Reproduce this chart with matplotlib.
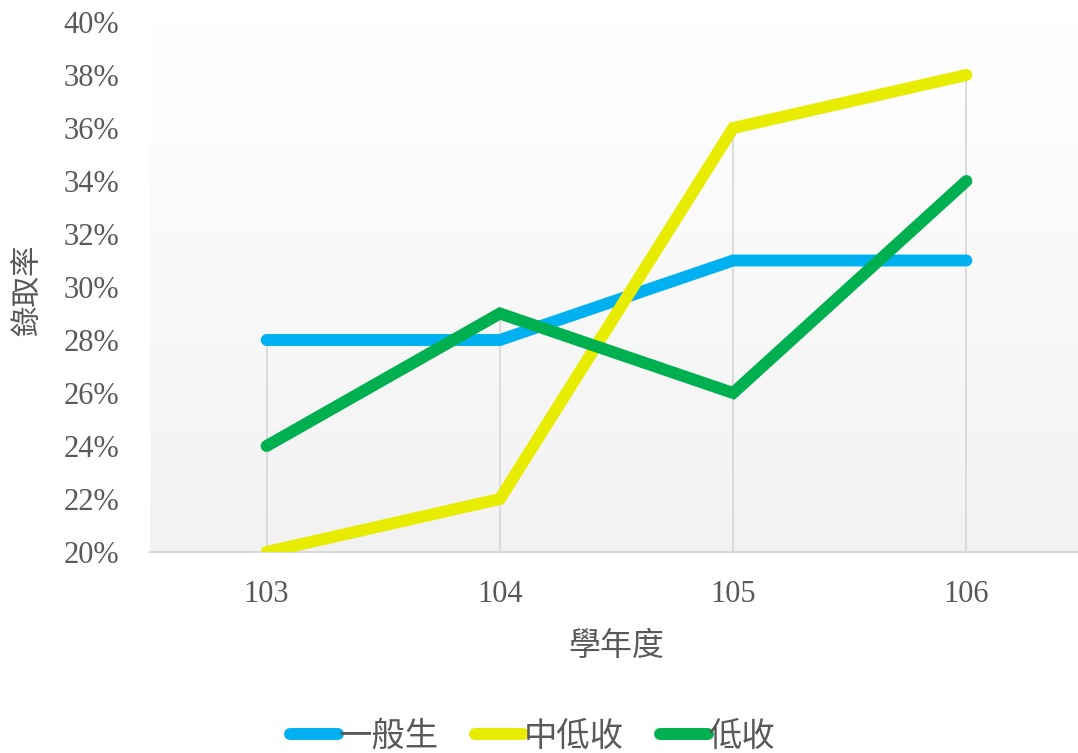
import matplotlib
matplotlib.use("Agg")
import matplotlib.pyplot as plt
import numpy as np
from matplotlib.colors import LinearSegmentedColormap

years = ["103", "104", "105", "106"]
series_names = ["一般生", "中低收", "低收"]
general = [28, 28, 31, 31]
mid_low = [20, 22, 36, 38]
low = [24, 29, 26, 34]
colors = ["#00B0F0", "#E8EC00", "#00B050"]
yticks = list(range(20, 41, 2))

cjk = ["Noto Sans CJK TC", "DejaVu Sans"]
serif = ["Liberation Serif", "DejaVu Serif"]
txt = "#595959"

fig = plt.figure(figsize=(10.78, 7.53), dpi=100)
ax = fig.add_axes([150/1078, 201/753, (1083 - 150)/1078, 530/753])

# gradient background
cmap = LinearSegmentedColormap.from_list("g", ["#ffffff", "#f2f2f2"])
grad = np.linspace(0, 1, 256).reshape(-1, 1)
ax.imshow(grad, cmap=cmap, aspect="auto", extent=(0, 1, 0, 1),
          transform=ax.transAxes, origin="upper", zorder=0)

x = np.arange(len(years))
data = [general, mid_low, low]
maxvals = np.max(np.array(data), axis=0)
ax.vlines(x, 20, maxvals, color="#d9d9d9", lw=1.3, zorder=1)

for vals, c, name in zip(data, colors, series_names):
    ax.plot(x, vals, color=c, lw=8.6, solid_capstyle="round",
            solid_joinstyle="miter", label=name, zorder=3)

ax.set_xlim(-0.5, 3.5)
ax.set_ylim(20, 40)
ax.set_xticks(x)
ax.set_xticklabels(years)
ax.set_yticks(yticks)
ax.set_yticklabels([f"{v}%" for v in yticks])
for lab in ax.get_xticklabels() + ax.get_yticklabels():
    lab.set_family(serif)
    lab.set_fontsize(22)
    lab.set_color(txt)
ax.tick_params(axis="both", length=0)
ax.tick_params(axis="y", pad=22)
ax.tick_params(axis="x", pad=20)

for s in ["left", "right", "top"]:
    ax.spines[s].set_visible(False)
ax.spines["bottom"].set_color("#d9d9d9")
ax.spines["bottom"].set_linewidth(1.5)
ax.spines["bottom"].set_zorder(2)

ax.set_xlabel("學年度", family=cjk, fontsize=23, color=txt, va="center")
ax.xaxis.set_label_coords(0.5, -(646 - 552) / 530)
ax.set_ylabel("錄取率", family=cjk, fontsize=22, color=txt, va="center")
ax.yaxis.set_label_coords(-(150 - 29) / 933, 0.494)

leg = fig.legend(loc="center", bbox_to_anchor=(0.494, 16.5 / 753), ncol=3,
                 frameon=False, handlelength=1.45, handletextpad=0.0,
                 columnspacing=1.1, borderaxespad=0.0, borderpad=0.0,
                 prop={"family": cjk, "size": 24})
for t in leg.get_texts():
    t.set_color(txt)

fig.savefig("out.png", dpi=100)
